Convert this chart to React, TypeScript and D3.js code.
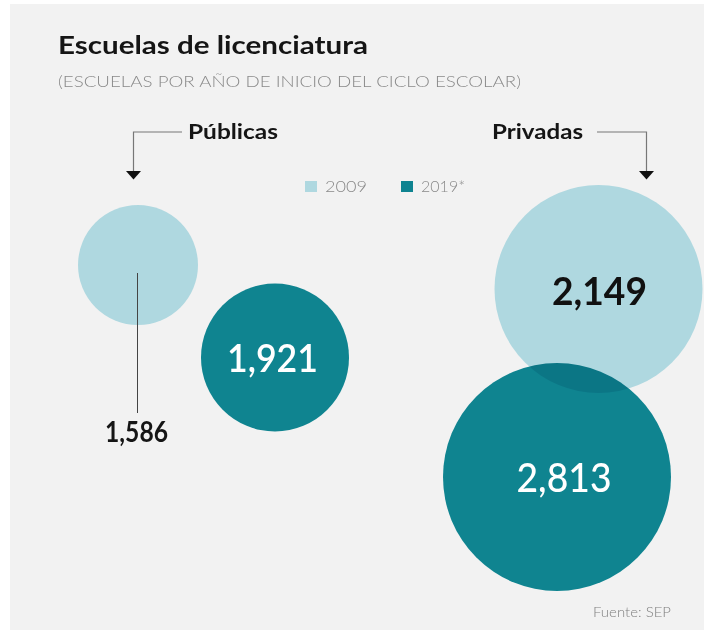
import React from "react";
import * as d3 from "d3";

// ---- data ----
const categories = ["Públicas", "Privadas"];
const years = ["2009", "2019*"];
const values2009 = [1586, 2149];
const values2019 = [1921, 2813];
const title = "Escuelas de licenciatura";
const subtitle = "(ESCUELAS POR AÑO DE INICIO DEL CICLO ESCOLAR)";
const source = "Fuente: SEP";

// ---- layout ----
const W = 704;
const H = 630;
const BG = "#f2f2f2";
const LIGHT = "#afd8e0";
const DARK = "#0f8b98";
const FONT = "Lato, 'Open Sans', sans-serif";

// centers of the circles: [category][year]
const centers = [
  [
    { x: 138, y: 265 },
    { x: 275, y: 357.5 },
  ],
  [
    { x: 598.5, y: 289 },
    { x: 557, y: 477 },
  ],
];

const fmt = d3.format(",");

export default function App() {
  const allValues = [...values2009, ...values2019].sort((a, b) => a - b);
  // designer's (non-proportional) radius encoding
  const r = d3.scaleLinear().domain(allValues).range([60, 74, 104, 114]);

  const series = [values2009, values2019];
  const yearColors = d3.scaleOrdinal<string, string>().domain(years).range([LIGHT, DARK]);

  return (
    <svg
      width={W}
      height={H}
      style={{ position: "absolute", left: 0, top: 0, background: "#ffffff" }}
      fontFamily={FONT}
    >
      <rect x={10} y={4} width={W - 10} height={H - 4} fill={BG} />

      <text x={58} y={54} fontSize={24} fontWeight={700} fill="#151515" textLength={310} lengthAdjust="spacingAndGlyphs">
        {title}
      </text>
      <text x={58} y={87} fontSize={16.5} fontWeight={300} fill="#8a8a8a" textLength={463} lengthAdjust="spacingAndGlyphs">
        {subtitle}
      </text>

      {/* category headers with arrows */}
      <g>
        <polyline points="182,132 133.5,132 133.5,172" fill="none" stroke="#777" strokeWidth={1.2} />
        <polygon points="126,171 141,171 133.5,179.5" fill="#111" />
        <text x={188} y={139} fontSize={21} fontWeight={700} fill="#151515" textLength={90} lengthAdjust="spacingAndGlyphs">
          {categories[0]}
        </text>
        <polyline points="597,132 646.5,132 646.5,172" fill="none" stroke="#777" strokeWidth={1.2} />
        <polygon points="639,171 654,171 646.5,179.5" fill="#111" />
        <text x={492} y={139} fontSize={21} fontWeight={700} fill="#151515" textLength={91} lengthAdjust="spacingAndGlyphs">
          {categories[1]}
        </text>
      </g>

      {/* legend */}
      <g>
        <rect x={305} y={181} width={12} height={11} fill={LIGHT} />
        <text x={325} y={192} fontSize={16} fontWeight={300} fill="#8a8a8a" textLength={42} lengthAdjust="spacingAndGlyphs">
          {years[0]}
        </text>
        <rect x={401} y={181} width={12} height={11} fill="#0e8390" />
        <text x={421} y={192} fontSize={16} fontWeight={300} fill="#8a8a8a" textLength={44} lengthAdjust="spacingAndGlyphs">
          {years[1]}
        </text>
      </g>

      {/* circles */}
      {series.map((vals, yi) =>
        vals.map((v, ci) => (
          <circle
            key={`c-${yi}-${ci}`}
            cx={centers[ci][yi].x}
            cy={centers[ci][yi].y}
            r={r(v)}
            fill={yearColors(years[yi])}
            style={yi === 1 ? { mixBlendMode: "multiply" } : undefined}
          />
        ))
      )}

      {/* labels */}
      <line
        x1={centers[0][0].x - 0.5}
        x2={centers[0][0].x - 0.5}
        y1={centers[0][0].y + 8}
        y2={centers[0][0].y + 148}
        stroke="#444"
        strokeWidth={1}
      />
      <text x={centers[0][0].x - 1.5} y={442} textAnchor="middle" fontSize={28} fontWeight={700} fill="#151515" textLength={63} lengthAdjust="spacingAndGlyphs">
        {fmt(values2009[0])}
      </text>
      <text x={centers[0][1].x - 2.5} y={centers[0][1].y + 14.5} textAnchor="middle" fontSize={39} fontWeight={600} fill="#ffffff" textLength={91} lengthAdjust="spacingAndGlyphs">
        {fmt(values2019[0])}
      </text>
      <text x={centers[1][0].x + 1} y={centers[1][0].y + 16} textAnchor="middle" fontSize={38} fontWeight={700} fill="#111111" textLength={95} lengthAdjust="spacingAndGlyphs">
        {fmt(values2009[1])}
      </text>
      <text x={centers[1][1].x + 7} y={centers[1][1].y + 15} textAnchor="middle" fontSize={40} fontWeight={500} fill="#ffffff" textLength={95} lengthAdjust="spacingAndGlyphs">
        {fmt(values2019[1])}
      </text>

      <text x={671} y={617} textAnchor="end" fontSize={14} fontWeight={300} fill="#808080" textLength={78} lengthAdjust="spacingAndGlyphs">
        {source}
      </text>
    </svg>
  );
}
